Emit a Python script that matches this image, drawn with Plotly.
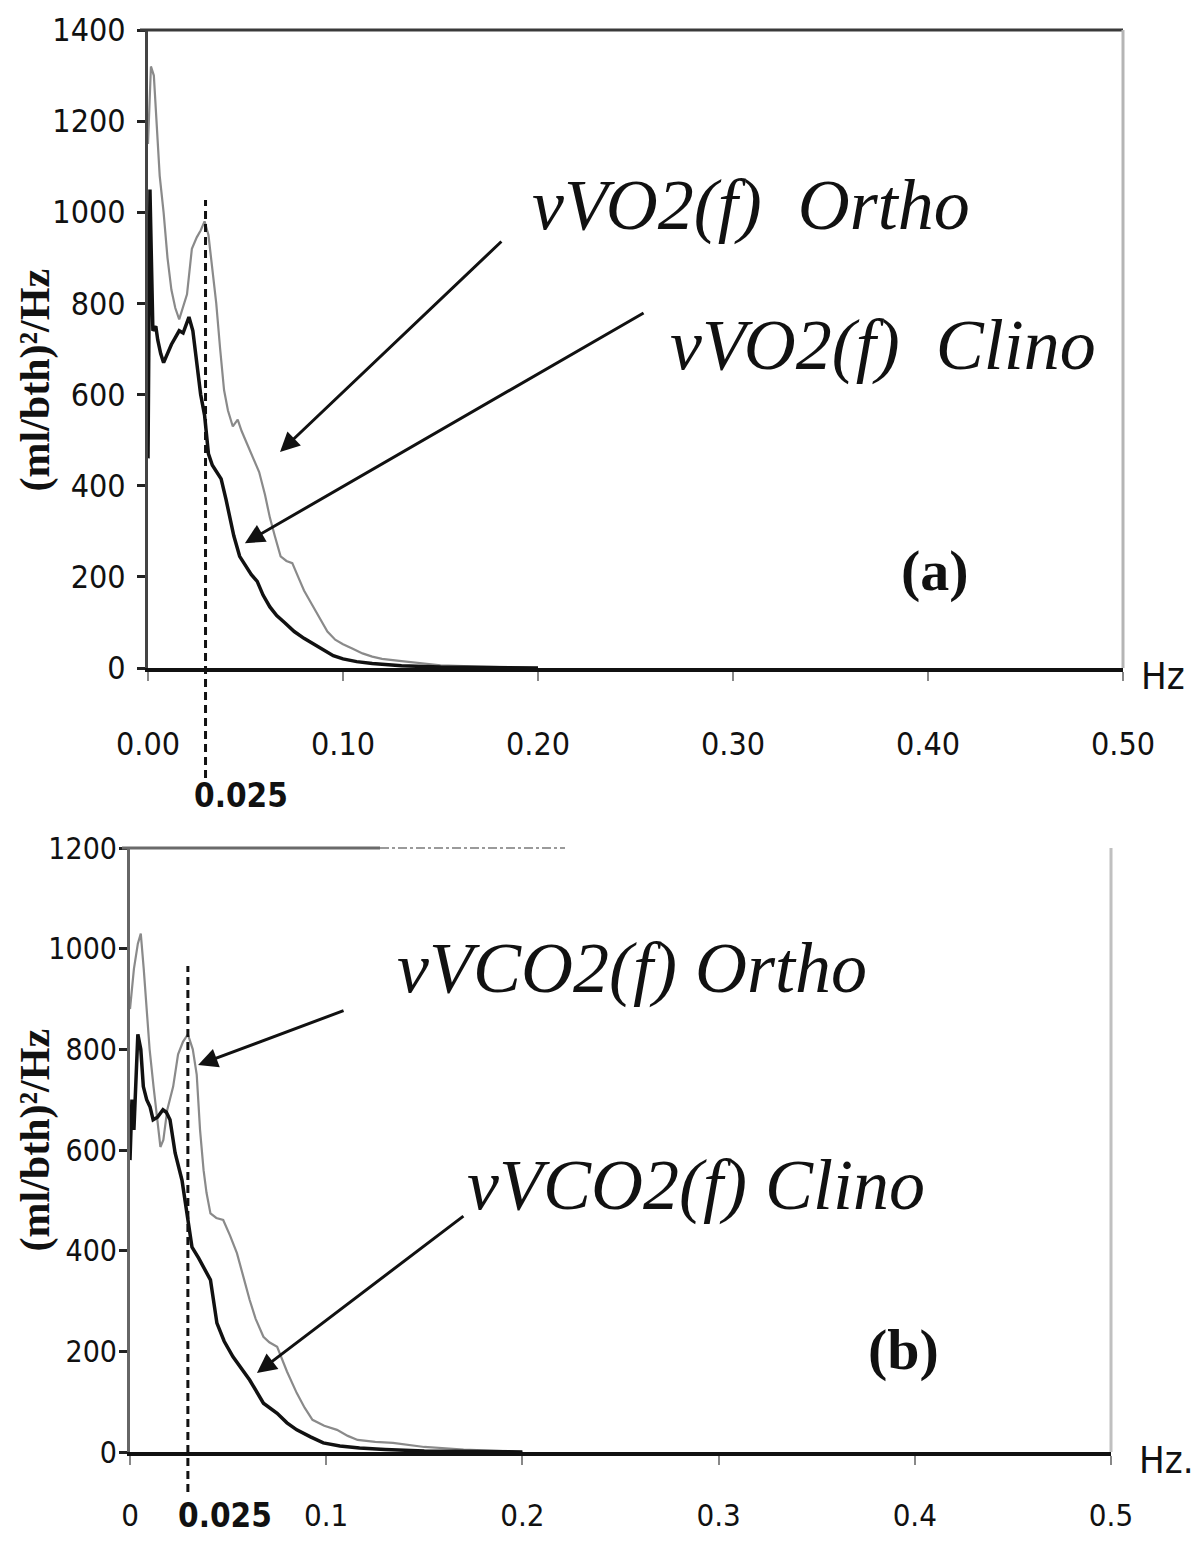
import plotly.graph_objects as go

# ---------------- data ----------------
# Panel (a): vVO2(f)
freq_vo2_ortho = [0.000, 0.0015, 0.003, 0.0045, 0.006, 0.008, 0.010, 0.012, 0.014, 0.016,
                  0.018, 0.020, 0.0225, 0.025, 0.027, 0.029, 0.031, 0.033, 0.035, 0.037,
                  0.039, 0.041, 0.0435, 0.046, 0.048, 0.051, 0.054, 0.057, 0.060, 0.0625,
                  0.065, 0.068, 0.071, 0.074, 0.077, 0.080, 0.084, 0.088, 0.092, 0.096,
                  0.100, 0.105, 0.110, 0.115, 0.120, 0.130, 0.140, 0.150, 0.170, 0.200]
psd_vo2_ortho = [1150, 1320, 1300, 1200, 1080, 1000, 900, 830, 790, 765,
                 790, 820, 920, 945, 960, 980, 950, 880, 800, 700,
                 610, 565, 530, 545, 520, 490, 460, 430, 380, 330,
                 290, 245, 235, 230, 200, 170, 140, 110, 80, 62,
                 52, 42, 32, 25, 20, 15, 10, 6, 3, 0]

freq_vo2_clino = [0.000, 0.001, 0.0025, 0.004, 0.005, 0.0065, 0.008, 0.010, 0.012, 0.014,
                  0.016, 0.018, 0.0195, 0.021, 0.023, 0.025, 0.027, 0.029, 0.031, 0.033,
                  0.035, 0.0375, 0.040, 0.042, 0.044, 0.047, 0.050, 0.053, 0.056, 0.059,
                  0.0625, 0.066, 0.070, 0.075, 0.080, 0.085, 0.090, 0.095, 0.100, 0.107,
                  0.115, 0.130, 0.150, 0.200]
psd_vo2_clino = [460, 1050, 740, 750, 720, 690, 670, 690, 710, 725,
                 740, 735, 755, 770, 740, 670, 600, 555, 470, 445,
                 430, 415, 370, 330, 290, 245, 225, 205, 190, 160,
                 134, 115, 100, 80, 65, 52, 38, 27, 20, 14,
                 10, 5, 2, 0]

# Panel (b): vVCO2(f)
freq_vco2_ortho = [0.000, 0.002, 0.004, 0.0055, 0.007, 0.0085, 0.010, 0.012, 0.014, 0.0155,
                   0.017, 0.019, 0.022, 0.0245, 0.027, 0.0295, 0.032, 0.034, 0.0357, 0.0375,
                   0.039, 0.041, 0.044, 0.0475, 0.051, 0.0545, 0.058, 0.061, 0.064, 0.068,
                   0.071, 0.075, 0.080, 0.085, 0.089, 0.093, 0.099, 0.1055, 0.111, 0.116,
                   0.125, 0.134, 0.150, 0.170, 0.190, 0.200]
psd_vco2_ortho = [880, 960, 1010, 1030, 960, 870, 800, 726, 650, 606,
                  620, 680, 726, 790, 815, 830, 800, 750, 640, 560,
                  515, 474, 465, 461, 430, 395, 345, 302, 265, 229,
                  218, 209, 160, 117, 88, 64, 52, 44, 32, 24,
                  20, 18, 10, 5, 2, 0]

freq_vco2_clino = [0.000, 0.001, 0.002, 0.003, 0.004, 0.0055, 0.0068, 0.0085, 0.0102, 0.0118,
                   0.014, 0.0168, 0.0185, 0.0204, 0.023, 0.0265, 0.029, 0.0316, 0.035, 0.038,
                   0.041, 0.0443, 0.048, 0.0525, 0.057, 0.061, 0.068, 0.075, 0.080, 0.085,
                   0.092, 0.0985, 0.107, 0.117, 0.130, 0.150, 0.200]
psd_vco2_clino = [580, 700, 640, 760, 830, 800, 726, 700, 686, 660,
                  665, 680, 675, 660, 594, 540, 474, 407, 385, 365,
                  342, 256, 220, 189, 165, 143, 97, 77, 58, 44,
                  30, 18, 12, 8, 5, 2, 0]

# axis ticks
x_ticks = [0.0, 0.1, 0.2, 0.3, 0.4, 0.5]
x_ticktext_a = ["0.00", "0.10", "0.20", "0.30", "0.40", "0.50"]
x_ticktext_b = ["0", "0.1", "0.2", "0.3", "0.4", "0.5"]
y_ticks_a = [0, 200, 400, 600, 800, 1000, 1200, 1400]
y_ticks_b = [0, 200, 400, 600, 800, 1000, 1200]

# reference frequency marker (drawn where it appears in the figure) and its label
marker_freq = 0.0295
marker_label = "0.025"

# text labels
y_title = "(ml/bth)²/Hz"
label_a_ortho = "vVO2(f)  Ortho"
label_a_clino = "vVO2(f)  Clino"
label_b_ortho = "vVCO2(f) Ortho"
label_b_clino = "vVCO2(f) Clino"

# ---------------- figure ----------------
# the page body has an 8px margin, so the figure is 8px smaller and positions are shifted
OFF = 8
W, H = 1200 - OFF, 1546 - OFF
def pxx(px):  # screen column -> paper x
    return (px - OFF) / W
def pxy(px):  # screen row -> paper y
    return 1 - (px - OFF) / H

SANS_N = "Liberation Sans Narrow, Arial Narrow, DejaVu Sans Condensed, Liberation Sans, sans-serif"
SERIF = "Liberation Serif, Times New Roman, serif"
ORTHO_C = "#8a8a8a"
CLINO_C = "#111111"

fig = go.Figure()
fig.add_trace(go.Scatter(x=freq_vo2_ortho, y=psd_vo2_ortho, mode="lines",
                         line=dict(color=ORTHO_C, width=2.2), xaxis="x", yaxis="y",
                         name="vVO2 Ortho"))
fig.add_trace(go.Scatter(x=freq_vo2_clino, y=psd_vo2_clino, mode="lines",
                         line=dict(color=CLINO_C, width=3.5), xaxis="x", yaxis="y",
                         name="vVO2 Clino"))
fig.add_trace(go.Scatter(x=freq_vco2_ortho, y=psd_vco2_ortho, mode="lines",
                         line=dict(color=ORTHO_C, width=2.2), xaxis="x2", yaxis="y2",
                         name="vVCO2 Ortho"))
fig.add_trace(go.Scatter(x=freq_vco2_clino, y=psd_vco2_clino, mode="lines",
                         line=dict(color=CLINO_C, width=3.5), xaxis="x2", yaxis="y2",
                         name="vVCO2 Clino"))

# panel geometry (screen pixels)
A_L, A_R, A_T, A_B = 148, 1123, 30, 668
B_L, B_R, B_T, B_B = 130, 1111, 848, 1452

common_x = dict(range=[0, 0.5], tickvals=x_ticks, showgrid=False, zeroline=False,
                showline=True, linecolor="#111", linewidth=4, ticks="outside",
                ticklen=9, tickwidth=2, tickcolor="#888", automargin=False)
common_y = dict(showgrid=False, zeroline=False, showline=True, linewidth=3,
                ticks="outside", ticklen=8, tickwidth=3, tickcolor="#222", automargin=False)

fig.update_layout(
    width=W, height=H, margin=dict(l=0, r=0, t=0, b=0, autoexpand=False),
    paper_bgcolor="white", plot_bgcolor="white", showlegend=False,
    xaxis=dict(common_x, domain=[pxx(A_L), pxx(A_R)], anchor="y",
               ticktext=x_ticktext_a, ticklabelstandoff=36,
               tickfont=dict(family=SANS_N, size=32, color="#111")),
    yaxis=dict(common_y, domain=[pxy(A_B), pxy(A_T)], anchor="x", range=[0, 1400],
               tickvals=y_ticks_a, linecolor="#444", ticklabelstandoff=5,
               tickfont=dict(family=SANS_N, size=32, color="#111")),
    xaxis2=dict(common_x, domain=[pxx(B_L), pxx(B_R)], anchor="y2",
                ticktext=x_ticktext_b, ticklabelstandoff=24,
                tickfont=dict(family=SANS_N, size=31, color="#111")),
    yaxis2=dict(common_y, domain=[pxy(B_B), pxy(B_T)], anchor="x2", range=[0, 1200],
                tickvals=y_ticks_b, linecolor="#666", ticklabelstandoff=-4,
                tickfont=dict(family=SANS_N, size=30, color="#111")),
)

shapes = []
# panel frames: top and right borders
shapes.append(dict(type="line", xref="paper", yref="paper", x0=pxx(A_L - 8), x1=pxx(A_R),
                   y0=pxy(A_T), y1=pxy(A_T), line=dict(color="#3a3a3a", width=3)))
shapes.append(dict(type="line", xref="paper", yref="paper", x0=pxx(A_R), x1=pxx(A_R),
                   y0=pxy(A_T), y1=pxy(A_B), line=dict(color="#b5b5b5", width=3)))
shapes.append(dict(type="line", xref="paper", yref="paper", x0=pxx(B_L - 8), x1=pxx(380),
                   y0=pxy(B_T), y1=pxy(B_T), line=dict(color="#6a6a6a", width=3)))
shapes.append(dict(type="line", xref="paper", yref="paper", x0=pxx(380), x1=pxx(565),
                   y0=pxy(B_T), y1=pxy(B_T), line=dict(color="#9a9a9a", width=2, dash="dashdot")))
shapes.append(dict(type="line", xref="paper", yref="paper", x0=pxx(B_R), x1=pxx(B_R),
                   y0=pxy(B_T), y1=pxy(B_B), line=dict(color="#c0c0c0", width=3)))
# dashed reference frequency lines
shapes.append(dict(type="line", xref="x", yref="paper", x0=marker_freq, x1=marker_freq,
                   y0=pxy(778), y1=pxy(200), line=dict(color="#111", width=3, dash="8px,5px")))
shapes.append(dict(type="line", xref="x2", yref="paper", x0=marker_freq, x1=marker_freq,
                   y0=pxy(1492), y1=pxy(966), line=dict(color="#111", width=3, dash="8px,5px")))
fig.update_layout(shapes=shapes)

ann = []
def label(text, x, y, xr, yr, size, xanchor="left"):
    ann.append(dict(text=text, x=x, y=y, xref=xr, yref=yr, showarrow=False,
                    xanchor=xanchor, yanchor="middle",
                    font=dict(family=SERIF, size=size, color="#111")))

def arrow(x_tip, y_tip, x_tail, y_tail, xr, yr):
    ann.append(dict(text="", x=x_tip, y=y_tip, ax=x_tail, ay=y_tail, xref=xr, yref=yr,
                    axref=xr, ayref=yr, showarrow=True, arrowhead=2, arrowsize=1.3,
                    arrowwidth=3, arrowcolor="#111"))

# panel (a)
label("<i>" + label_a_ortho + "</i>", 0.196, 1016, "x", "y", 72)
label("<i>" + label_a_clino + "</i>", 0.2667, 709, "x", "y", 72)
label("<b>(a)</b>", 0.4036, 215, "x", "y", 58, xanchor="center")
arrow(0.0677, 474, 0.182, 939, "x", "y")
arrow(0.0497, 274, 0.2549, 781, "x", "y")
# panel (b)
label("<i>" + label_b_ortho + "</i>", 0.135, 962, "x2", "y2", 72)
label("<i>" + label_b_clino + "</i>", 0.1707, 530, "x2", "y2", 72)
label("<b>(b)</b>", 0.394, 203, "x2", "y2", 58, xanchor="center")
arrow(0.0347, 769, 0.1096, 878, "x2", "y2")
arrow(0.0647, 157, 0.1707, 471, "x2", "y2")

# y-axis titles (rotated)
for ypx in [380, 1140]:
    ann.append(dict(text="<b>" + y_title + "</b>", x=pxx(10), y=pxy(ypx), xref="paper",
                    yref="paper", showarrow=False, textangle=-90,
                    xanchor="left", yanchor="middle", borderpad=0,
                    font=dict(family=SERIF, size=42, color="#111")))

# axis unit labels and reference frequency labels
for txt, xpx, ypx in [("Hz", 1163, 676), ("Hz.", 1166, 1460)]:
    ann.append(dict(text=txt, x=pxx(xpx), y=pxy(ypx), xref="paper", yref="paper",
                    showarrow=False, xanchor="center", yanchor="middle",
                    font=dict(family=SANS_N, size=38, color="#111")))
for xpx, ypx in [(241, 795), (225, 1515)]:
    ann.append(dict(text="<b>" + marker_label + "</b>", x=pxx(xpx), y=pxy(ypx),
                    xref="paper", yref="paper", showarrow=False,
                    xanchor="center", yanchor="middle",
                    font=dict(family=SANS_N, size=33, color="#111")))
fig.update_layout(annotations=ann)

fig.write_html("out.html")
